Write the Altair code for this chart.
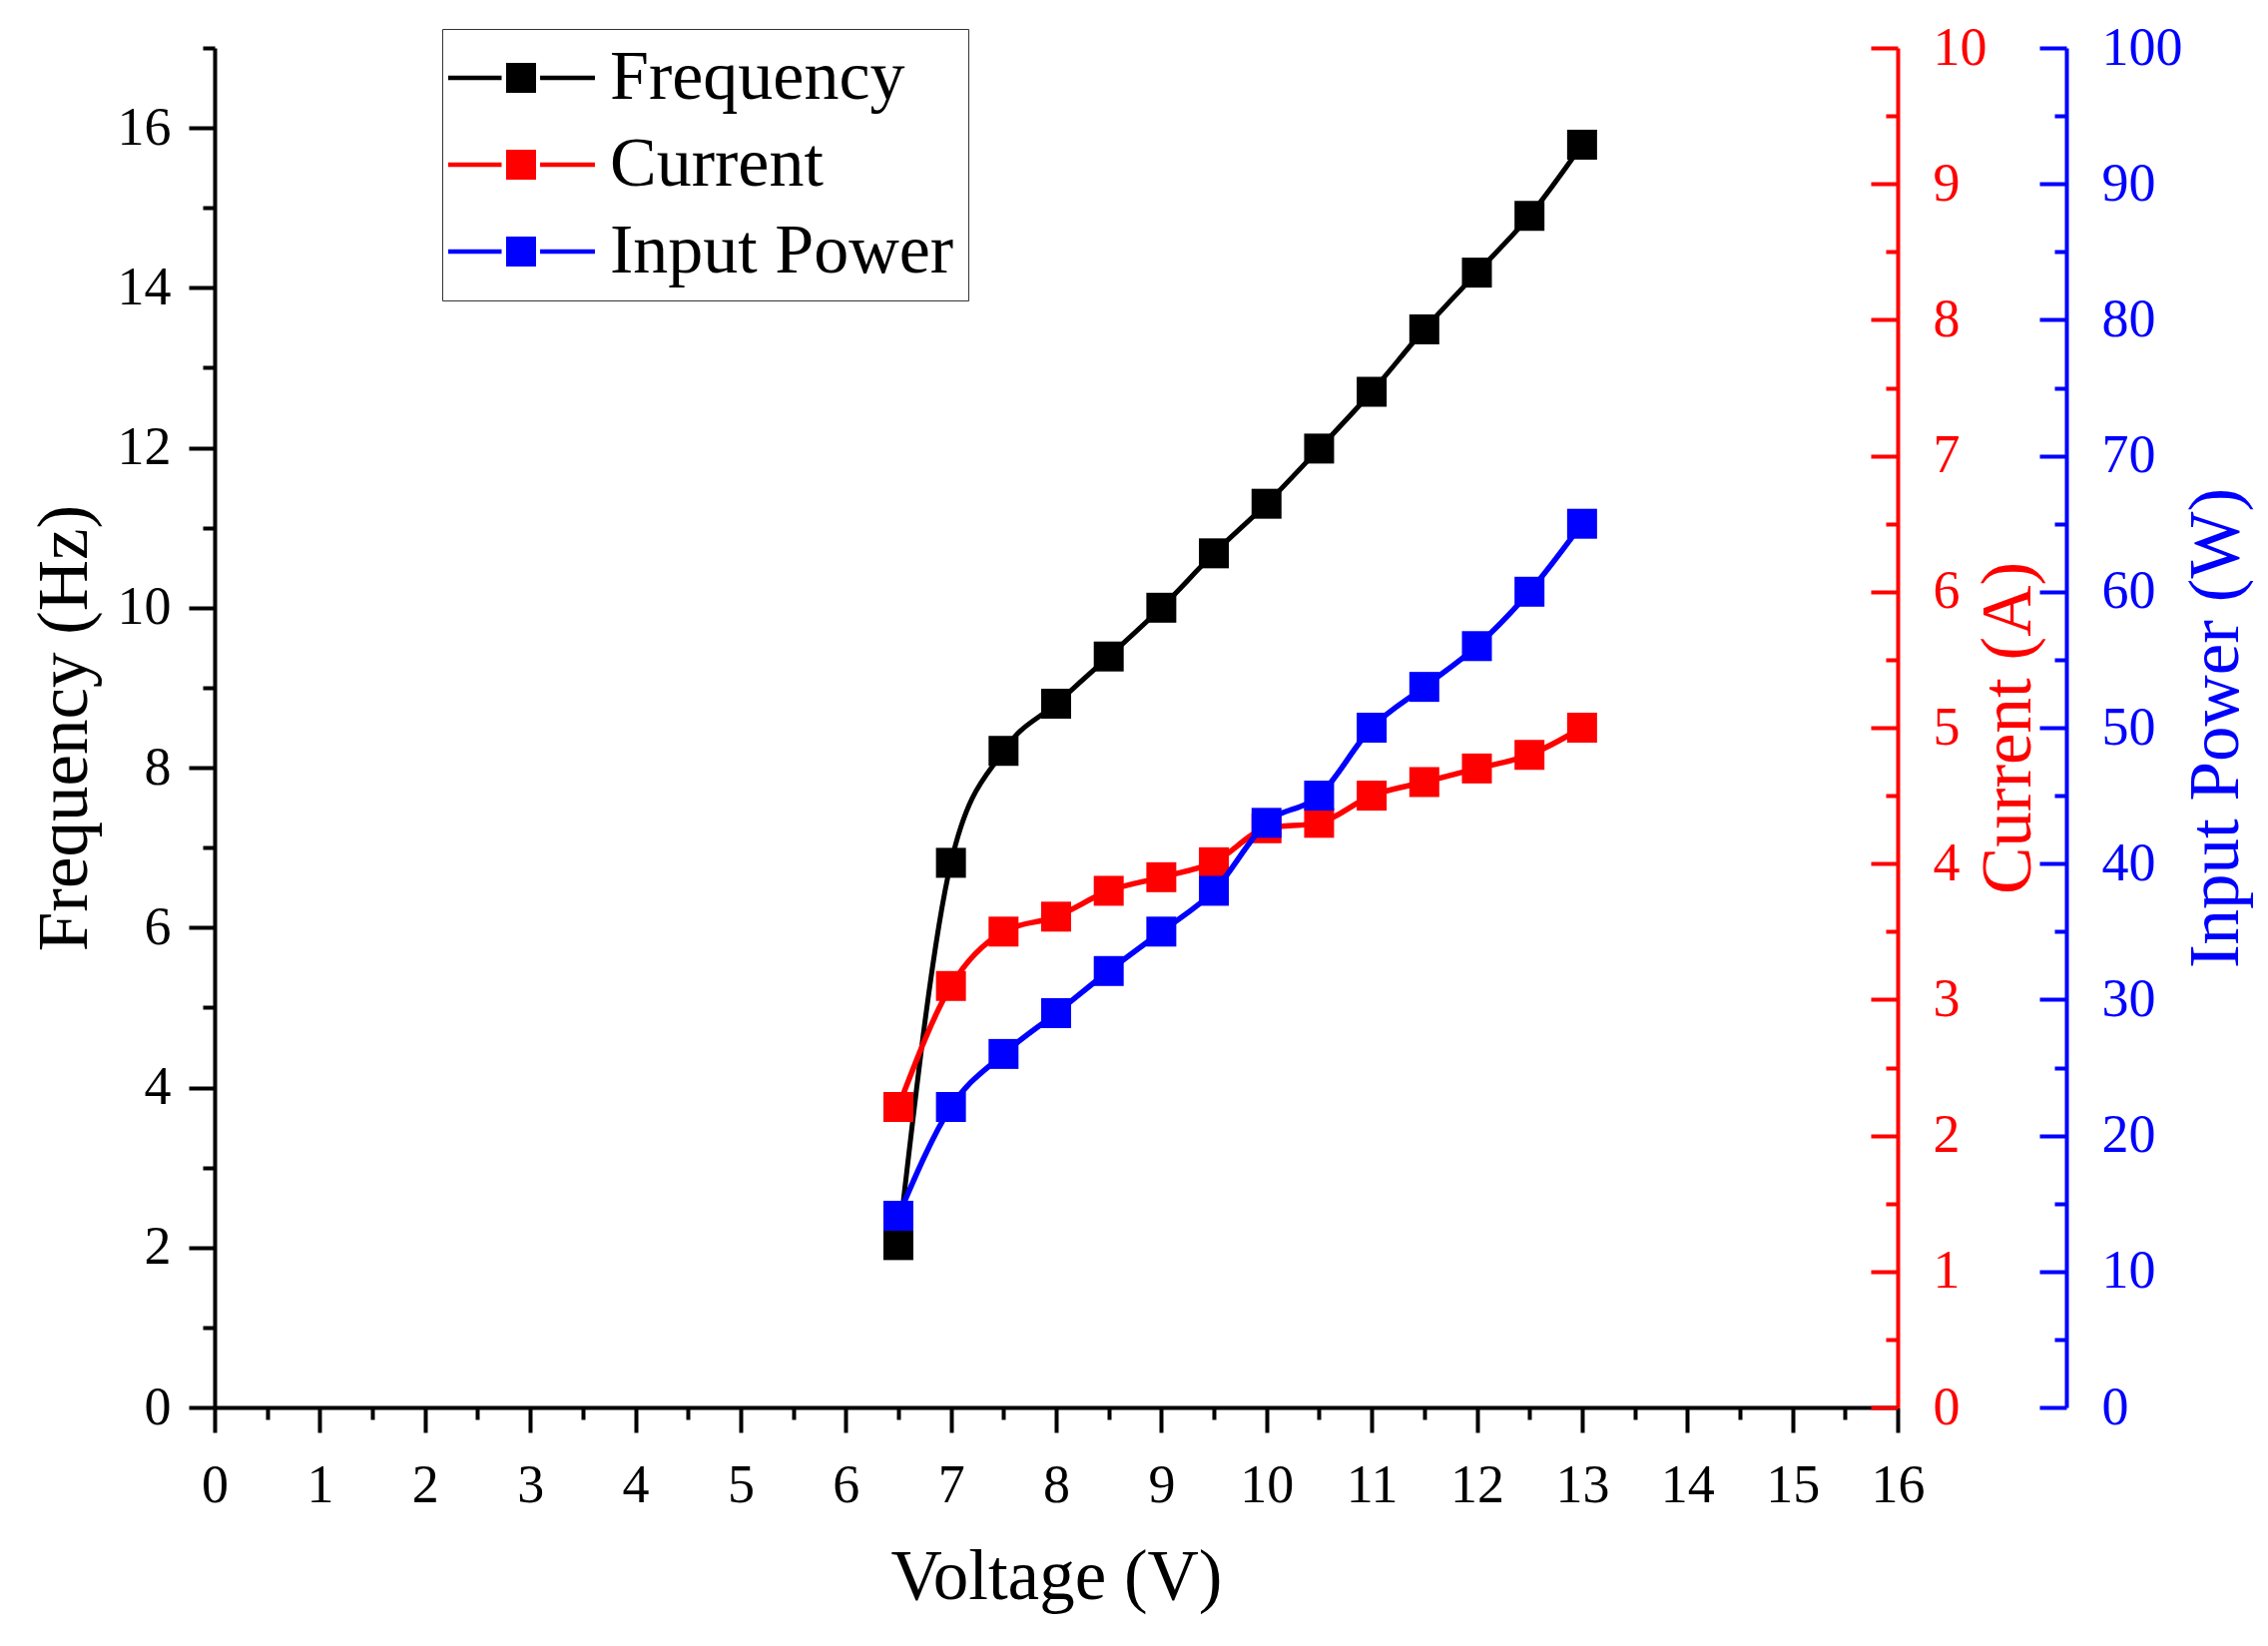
import altair as alt
import pandas as pd

# ---- data ----
voltage = [6.5, 7, 7.5, 8, 8.5, 9, 9.5, 10, 10.5, 11, 11.5, 12, 12.5, 13]
frequency = [2.03, 6.81, 8.21, 8.8, 9.39, 10.0, 10.68, 11.3, 11.99, 12.7, 13.48, 14.19, 14.9, 15.79]
current = [2.21, 3.1, 3.5, 3.61, 3.8, 3.9, 4.01, 4.26, 4.3, 4.5, 4.6, 4.7, 4.8, 5.0]
power = [14.1, 22.1, 26.0, 29.0, 32.1, 35.0, 38.0, 43.0, 45.0, 50.0, 53.0, 56.0, 60.0, 65.0]

series_names = ["Frequency", "Current", "Input Power"]
series_colors = ["#000000", "#FF0000", "#0000FF"]

x_major = list(range(0, 17))
x_minor = [v + 0.5 for v in range(0, 16)]
f_major = list(range(0, 17, 2))
f_minor = list(range(1, 18, 2))
c_major = list(range(0, 11))
c_minor = [v + 0.5 for v in range(0, 10)]
p_major = list(range(0, 101, 10))
p_minor = list(range(5, 100, 10))

W, H = 1686, 1362
FONT = "Liberation Serif"
TICK_FS = 54
TITLE_FS = 71

def frame(values, name):
    return pd.DataFrame({"voltage": voltage, "value": values, "series": [name] * len(voltage)})

df_f = frame(frequency, series_names[0])
df_c = frame(current, series_names[1])
df_p = frame(power, series_names[2])

legend_path = ("M-4.87,-0.15L-1.3,-0.15L-1.3,0.15L-4.87,0.15Z "
               "M-1,-1L1,-1L1,1L-1,1Z "
               "M1.27,-0.15L4.93,-0.15L4.93,0.15L1.27,0.15Z")

legend = alt.Legend(
    orient="none", legendX=228, legendY=-19, title=None,
    symbolType=legend_path, symbolSize=900, symbolStrokeWidth=0,
    symbolOffset=30, labelOffset=54,
    labelFont=FONT, labelFontSize=70, labelColor="#000000", labelLimit=1000,
    padding=14, rowPadding=17, fillColor="#FFFFFF", strokeColor="#333333",
)
color_scale = alt.Scale(domain=series_names, range=series_colors)
x_scale = alt.Scale(domain=[0, 16], nice=False)

x_axis_major = alt.Axis(
    orient="bottom", values=x_major, tickSize=25, tickWidth=4, tickColor="#000000",
    domainColor="#000000", domainWidth=4, labelFont=FONT, labelFontSize=TICK_FS,
    labelColor="#000000", labelPadding=26, labelFlush=False, labelOverlap=False, grid=False,
    title="Voltage (V)", titleFont=FONT, titleFontSize=TITLE_FS, titleFontWeight="normal",
    titleColor="#000000", titleX=W / 2, titleY=170, titleAlign="center", titleBaseline="middle",
)
x_axis_minor = alt.Axis(
    orient="bottom", values=x_minor, tickSize=12, tickWidth=4, tickColor="#000000",
    domain=False, labels=False, grid=False, title=None,
)


def major_axis(orient, values, color, title, tsize, title_x, offset=0, pad=18):
    kw = dict(
        orient=orient, values=values, tickSize=tsize, tickWidth=4, tickColor=color,
        domainColor=color, domainWidth=4, labelFont=FONT, labelFontSize=TICK_FS,
        labelColor=color, labelPadding=pad, labelOverlap=False, grid=False,
        title=title, titleFont=FONT, titleFontSize=TITLE_FS, titleFontWeight="normal",
        titleColor=color, titleAngle=270, titleX=title_x, titleY=H / 2,
        titleAlign="center", titleBaseline="middle",
    )
    if offset:
        kw["offset"] = offset
    return alt.Axis(**kw)


def minor_axis(orient, values, color, tsize, offset=0):
    kw = dict(orient=orient, values=values, tickSize=tsize, tickWidth=4, tickColor=color,
              domain=False, labels=False, grid=False, title=None)
    if offset:
        kw["offset"] = offset
    return alt.Axis(**kw)


def series_layer(df, color, domain, axis_major, axis_minor, xa_major=None, xa_minor=None, lw=5.5):
    y_scale = alt.Scale(domain=domain, nice=False)
    x_enc_line = alt.X("voltage:Q", scale=x_scale, axis=xa_major)
    x_enc_pts = alt.X("voltage:Q", scale=x_scale, axis=xa_minor)
    line = alt.Chart(df).mark_line(interpolate="monotone", strokeWidth=lw, color=color).encode(
        x=x_enc_line,
        y=alt.Y("value:Q", scale=y_scale, axis=axis_major),
    )
    pts = alt.Chart(df).mark_point(shape="square", filled=True, size=900, opacity=1).encode(
        x=x_enc_pts,
        y=alt.Y("value:Q", scale=y_scale, axis=axis_minor),
        color=alt.Color("series:N", scale=color_scale, legend=legend),
    )
    return alt.layer(line, pts).resolve_axis(x="independent", y="independent")


f_layer = series_layer(
    df_f, series_colors[0], [0, 17],
    major_axis("left", f_major, "#000000", "Frequency (Hz)", 26, -150),
    minor_axis("left", f_minor, "#000000", 12),
    x_axis_major, x_axis_minor, lw=5,
)
c_layer = series_layer(
    df_c, series_colors[1], [0, 10],
    major_axis("right", c_major, "#FF0000", "Current (A)", {"expr": "-27"}, 111, pad=62),
    minor_axis("right", c_minor, "#FF0000", {"expr": "-12"}),
)
p_layer = series_layer(
    df_p, series_colors[2], [0, 100],
    major_axis("right", p_major, "#0000FF", "Input Power (W)", {"expr": "-27"}, 150, offset=169, pad=62),
    minor_axis("right", p_minor, "#0000FF", {"expr": "-12"}, offset=169),
)

chart = (
    alt.layer(f_layer, c_layer, p_layer)
    .resolve_scale(y="independent")
    .resolve_axis(x="independent", y="independent")
    .properties(
        width=W, height=H,
        autosize=alt.AutoSizeParams(type="none"),
        padding={"left": 207, "top": 40, "right": 363, "bottom": 231},
        background="#FFFFFF",
    )
    .configure_view(stroke=None)
)

chart.save("out.html", embed_options={"renderer": "svg", "actions": False})
